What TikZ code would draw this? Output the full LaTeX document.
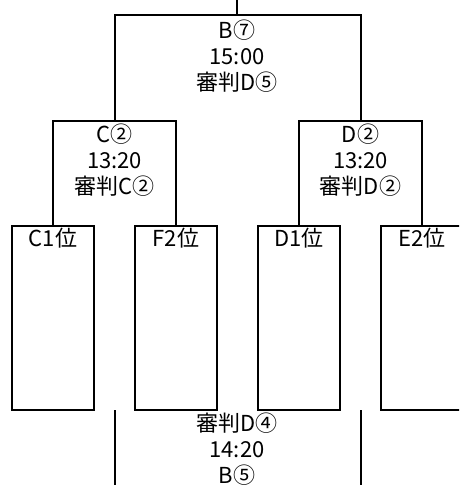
\documentclass[tikz,border=0pt]{standalone}
\usepackage{fontspec}
\setmainfont{Noto Sans CJK JP}
\begin{document}
\begin{tikzpicture}[x=1pt,y=-1pt,line width=2pt,
  teambox/.style={draw,rectangle,minimum width=82pt,minimum height=184pt,inner sep=0pt},
  teamlabel/.style={anchor=center,inner sep=0pt,font=\fontsize{22}{26}\selectfont},
  matchtext/.style={align=center,inner sep=0pt,font=\fontsize{22}{26}\selectfont}]
\clip (0,0) rectangle (459,485);
% team boxes
\node[teambox] (c1) at (53,318) {};
\node[teambox] (f2) at (176,318) {};
\node[teambox] (d1) at (299,318) {};
\node[teambox] (e2) at (422,318) {};
\node[teamlabel] (c1t) at (53,238) {C1位};
\node[teamlabel] (f2t) at (176,238) {F2位};
\node[teamlabel] (d1t) at (299,238) {D1位};
\node[teamlabel] (e2t) at (422,238) {E2位};
% bracket coordinates
\coordinate (semiC) at (114.5,121);
\coordinate (semiD) at (360.5,121);
\coordinate (final) at (237,15);
\coordinate (top) at (237,0);
\coordinate (lb1) at (114.5,410);
\coordinate (lb2) at (114.5,485);
\coordinate (rb1) at (360.5,410);
\coordinate (rb2) at (360.5,485);
% connectors
\draw (c1.north) |- (semiC) -| (f2.north);
\draw (d1.north) |- (semiD) -| (e2.north);
\draw (semiC) |- (final) -| (semiD);
\draw (final) -- (top);
\draw (lb1) -- (lb2);
\draw (rb1) -- (rb2);
% match texts
\node[matchtext] (mfinal) at (237,56) {B⑦\\15:00\\審判D⑤};
\node[matchtext] (msemiC) at (114.5,160) {C②\\13:20\\審判C②};
\node[matchtext] (msemiD) at (360.5,160) {D②\\13:20\\審判D②};
\node[matchtext] (mthird) at (237,449) {審判D④\\14:20\\B⑤};
\end{tikzpicture}
\end{document}
